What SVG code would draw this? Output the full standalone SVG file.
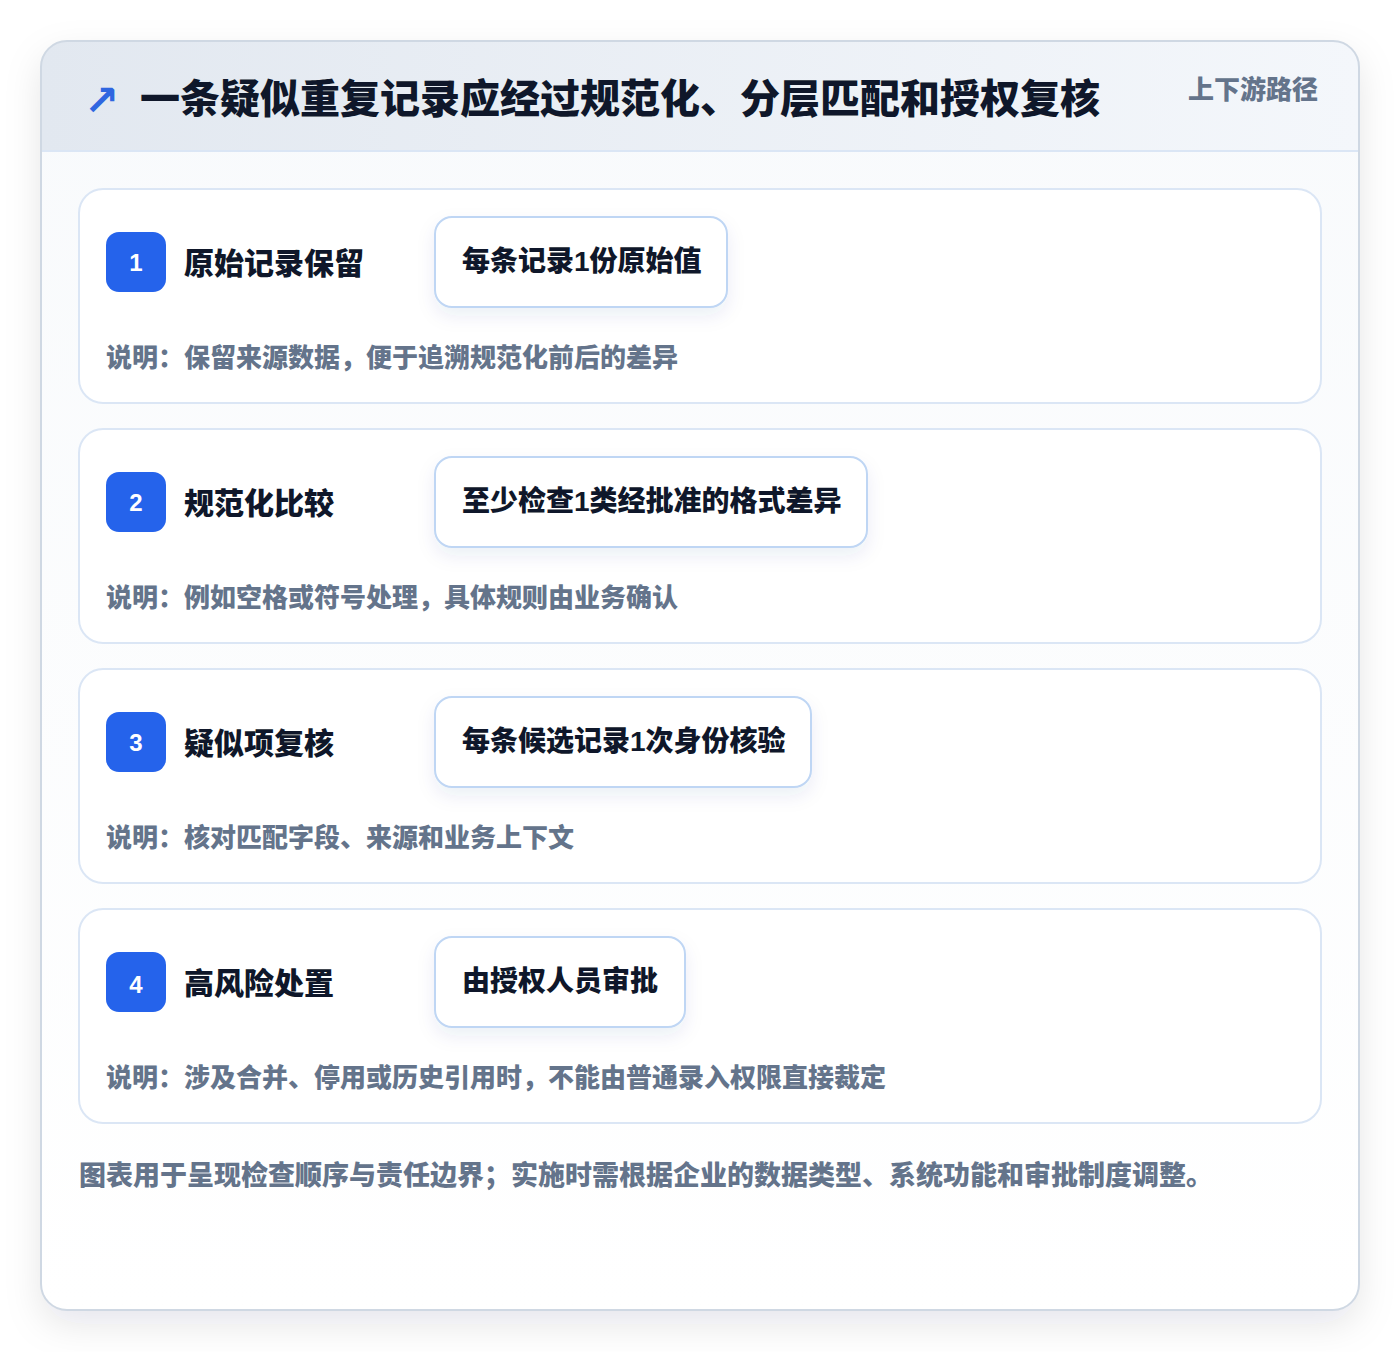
<svg xmlns="http://www.w3.org/2000/svg" width="1400" height="1352" viewBox="0 0 1400 1352">
<defs>
<linearGradient id="hdr" x1="0" y1="0" x2="1" y2="0"><stop offset="0" stop-color="#e2e8f0"/><stop offset="1" stop-color="#f4f7fb"/></linearGradient>
<linearGradient id="body" x1="0" y1="0" x2="0" y2="1"><stop offset="0" stop-color="#f8fafc"/><stop offset="1" stop-color="#ffffff"/></linearGradient>
<filter id="cardShadow" x="-10%" y="-10%" width="120%" height="120%"><feDropShadow dx="0" dy="14" stdDeviation="18" flood-color="#0f172a" flood-opacity="0.10"/></filter>
<filter id="boxShadow" x="-20%" y="-30%" width="140%" height="170%"><feDropShadow dx="0" dy="8" stdDeviation="9" flood-color="#1e3a8a" flood-opacity="0.08"/></filter>
<clipPath id="cardClip"><rect x="41" y="41" width="1318" height="1269" rx="26"/></clipPath>
<style>
.cjk{font-family:"Liberation Sans","Noto Sans CJK SC",sans-serif;font-weight:900}
.title{font-size:40px;fill:#0f172a}
.sub{font-size:26px;fill:#64748b}
.step{fill:#ffffff;stroke:#dbe6f5;stroke-width:2}
.badge{fill:#2563eb}
.num{font-family:"Liberation Sans",sans-serif;font-weight:700;font-size:24px;fill:#ffffff}
.label{font-size:30px;fill:#0f172a}
.vbox{fill:#ffffff;stroke:#bfd6f4;stroke-width:2}
.val{font-size:28px;fill:#0f172a}
.desc{font-size:26px;fill:#64748b}
.foot{font-size:27px;fill:#64748b}
</style>
</defs>
<g id="card">
<rect x="41" y="41" width="1318" height="1269" rx="26" fill="url(#body)" filter="url(#cardShadow)"/>
<g clip-path="url(#cardClip)"><rect x="41" y="41" width="1318" height="110" fill="url(#hdr)"/></g>
<line x1="41" y1="151" x2="1359" y2="151" stroke="#dbe6f5" stroke-width="2"/>
<rect x="41" y="41" width="1318" height="1269" rx="26" fill="none" stroke="#cfd8e3" stroke-width="2"/>
</g>
<g id="header">
<text x="84" y="115" font-family="DejaVu Sans,sans-serif" font-weight="700" font-size="42" fill="#2f66e0">↗</text>
<text class="cjk title" x="140" y="113">一条疑似重复记录应经过规范化、分层匹配和授权复核</text>
<text class="cjk sub" x="1318" y="99" text-anchor="end">上下游路径</text>
</g>
<g id="step1">
<rect class="step" x="79" y="189" width="1242" height="214" rx="24"/>
<rect class="badge" x="106" y="232" width="60" height="60" rx="13"/>
<text class="num" x="136" y="271" text-anchor="middle">1</text>
<text class="cjk label" x="184" y="274">原始记录保留</text>
<rect class="vbox" x="435" y="217" width="292" height="90" rx="17" filter="url(#boxShadow)"/>
<text class="cjk val" x="462" y="271">每条记录1份原始值</text>
<text class="cjk desc" x="106" y="367">说明：保留来源数据，便于追溯规范化前后的差异</text>
</g>
<g id="step2">
<rect class="step" x="79" y="429" width="1242" height="214" rx="24"/>
<rect class="badge" x="106" y="472" width="60" height="60" rx="13"/>
<text class="num" x="136" y="511" text-anchor="middle">2</text>
<text class="cjk label" x="184" y="514">规范化比较</text>
<rect class="vbox" x="435" y="457" width="432" height="90" rx="17" filter="url(#boxShadow)"/>
<text class="cjk val" x="462" y="511">至少检查1类经批准的格式差异</text>
<text class="cjk desc" x="106" y="607">说明：例如空格或符号处理，具体规则由业务确认</text>
</g>
<g id="step3">
<rect class="step" x="79" y="669" width="1242" height="214" rx="24"/>
<rect class="badge" x="106" y="712" width="60" height="60" rx="13"/>
<text class="num" x="136" y="751" text-anchor="middle">3</text>
<text class="cjk label" x="184" y="754">疑似项复核</text>
<rect class="vbox" x="435" y="697" width="376" height="90" rx="17" filter="url(#boxShadow)"/>
<text class="cjk val" x="462" y="751">每条候选记录1次身份核验</text>
<text class="cjk desc" x="106" y="847">说明：核对匹配字段、来源和业务上下文</text>
</g>
<g id="step4">
<rect class="step" x="79" y="909" width="1242" height="214" rx="24"/>
<rect class="badge" x="106" y="952" width="60" height="60" rx="13"/>
<text class="num" x="136" y="993" text-anchor="middle">4</text>
<text class="cjk label" x="184" y="994">高风险处置</text>
<rect class="vbox" x="435" y="937" width="250" height="90" rx="17" filter="url(#boxShadow)"/>
<text class="cjk val" x="462" y="991">由授权人员审批</text>
<text class="cjk desc" x="106" y="1087">说明：涉及合并、停用或历史引用时，不能由普通录入权限直接裁定</text>
</g>
<g id="connectors"></g>
<g id="footer">
<text class="cjk foot" x="79" y="1185">图表用于呈现检查顺序与责任边界；实施时需根据企业的数据类型、系统功能和审批制度调整。</text>
</g>
</svg>
